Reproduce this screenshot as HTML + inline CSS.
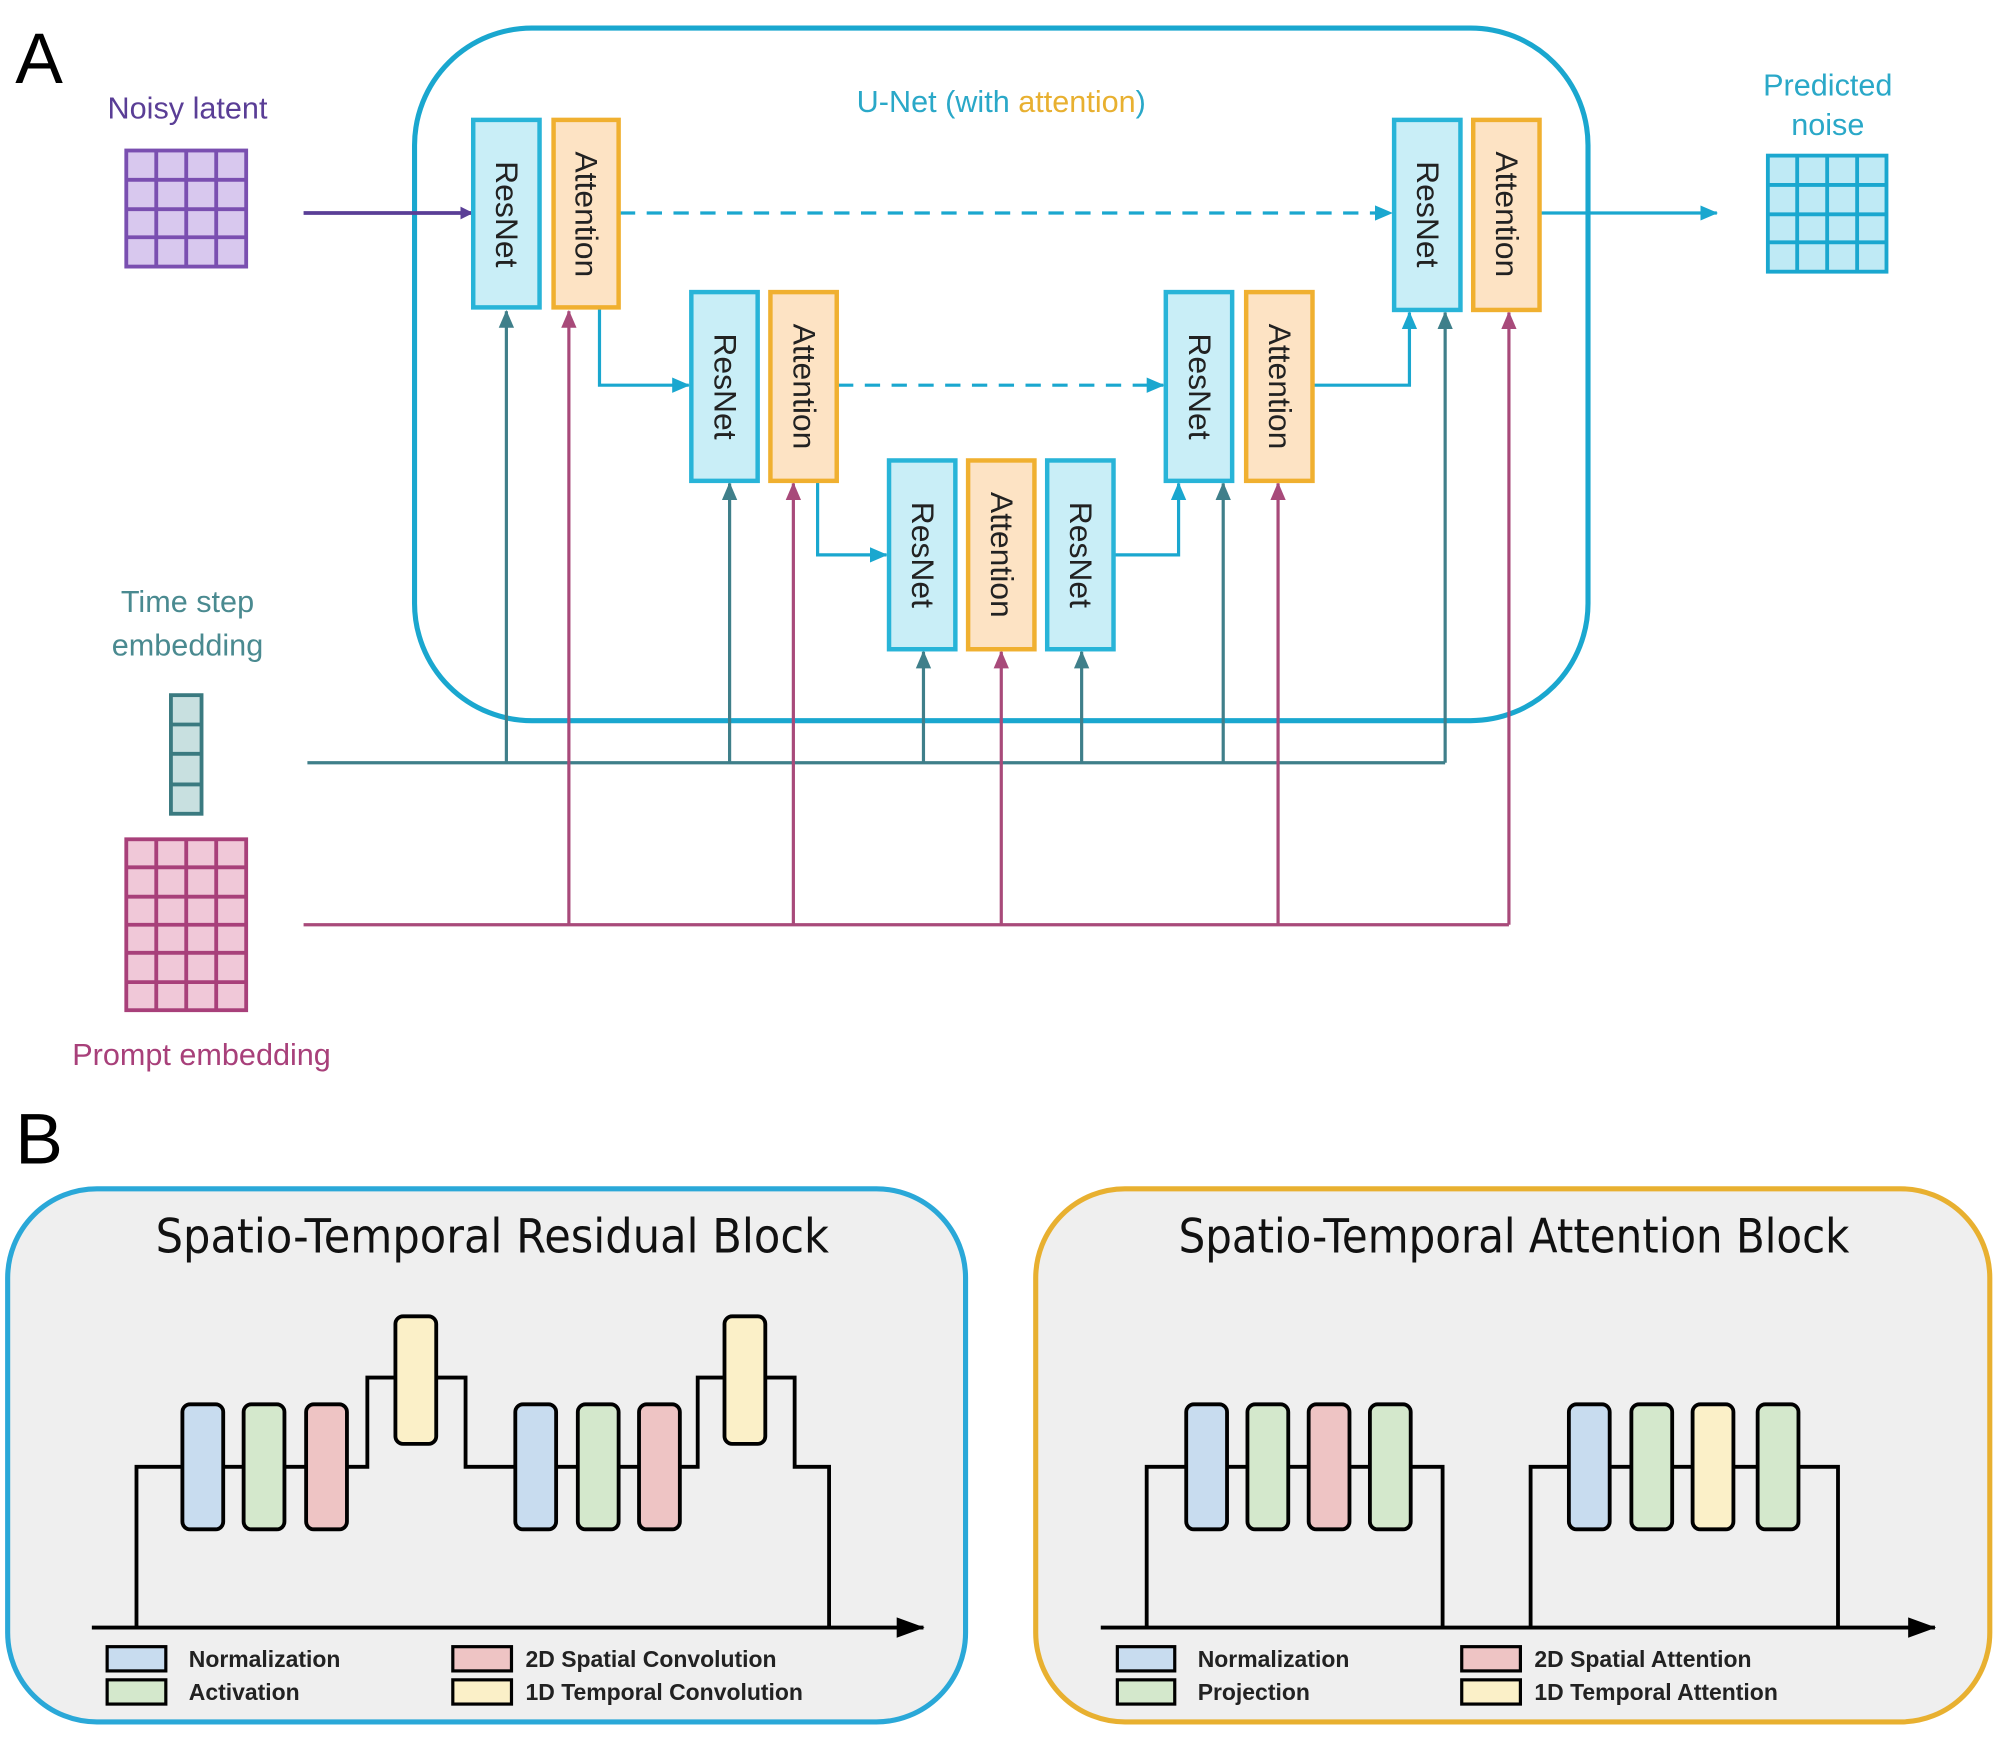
<!DOCTYPE html>
<html><head><meta charset="utf-8"><style>
html,body{margin:0;padding:0;background:#fff;}
svg{display:block;}
</style></head><body>
<svg width="2000" height="1738" viewBox="0 0 1568 1362.6" xmlns="http://www.w3.org/2000/svg" font-family="Liberation Sans, sans-serif">
<defs>
<marker id="mp" markerWidth="10" markerHeight="10" refX="9" refY="5" orient="auto" markerUnits="userSpaceOnUse" viewBox="0 0 10 10"><path d="M0,0 L10,5 L0,10 z" fill="#5a3e96"/></marker>
<marker id="mb" markerWidth="14" markerHeight="14" refX="13" refY="7" orient="auto" markerUnits="userSpaceOnUse" viewBox="0 0 14 14"><path d="M0,1 L14,7 L0,13 z" fill="#1aa7cf"/></marker>
<marker id="mt" markerWidth="14" markerHeight="14" refX="13" refY="7" orient="auto" markerUnits="userSpaceOnUse" viewBox="0 0 14 14"><path d="M0,1 L14,7 L0,13 z" fill="#3f7f8a"/></marker>
<marker id="mm" markerWidth="14" markerHeight="14" refX="13" refY="7" orient="auto" markerUnits="userSpaceOnUse" viewBox="0 0 14 14"><path d="M0,1 L14,7 L0,13 z" fill="#a84a7a"/></marker>
<marker id="mk" markerWidth="22" markerHeight="18" refX="21" refY="9" orient="auto" markerUnits="userSpaceOnUse" viewBox="0 0 22 18"><path d="M0,1 L22,9 L0,17 z" fill="#000"/></marker>
</defs>

<text x="12" y="65" font-size="56" fill="#000">A</text>
<rect x="325" y="22" width="920" height="543" rx="92" fill="none" stroke="#1aa7cf" stroke-width="4"/>
<text x="785" y="88" font-size="24" fill="#2aa8c8" text-anchor="middle">U-Net (with <tspan fill="#e8b030">attention</tspan>)</text>

<text x="147" y="93" font-size="24" fill="#5a3e96" text-anchor="middle">Noisy latent</text>
<rect x="99" y="118" width="94" height="91" fill="#d8c8ee" stroke="#7a4fb0" stroke-width="3"/>
<g stroke="#7a4fb0" stroke-width="3">
<line x1="122.5" y1="118" x2="122.5" y2="209"/><line x1="146" y1="118" x2="146" y2="209"/><line x1="169.5" y1="118" x2="169.5" y2="209"/>
<line x1="99" y1="141" x2="193" y2="141"/><line x1="99" y1="164" x2="193" y2="164"/><line x1="99" y1="186" x2="193" y2="186"/>
</g>
<line x1="238" y1="167" x2="370" y2="167" stroke="#5a3e96" stroke-width="3" marker-end="url(#mp)"/>

<text x="1433" y="75" font-size="24" fill="#2aa8c8" text-anchor="middle">Predicted</text>
<text x="1433" y="106" font-size="24" fill="#2aa8c8" text-anchor="middle">noise</text>
<rect x="1386" y="122" width="93" height="91" fill="#bfeaf5" stroke="#1aa7cf" stroke-width="3"/>
<g stroke="#1aa7cf" stroke-width="3">
<line x1="1409" y1="122" x2="1409" y2="213"/><line x1="1432.5" y1="122" x2="1432.5" y2="213"/><line x1="1456" y1="122" x2="1456" y2="213"/>
<line x1="1386" y1="145" x2="1479" y2="145"/><line x1="1386" y1="168" x2="1479" y2="168"/><line x1="1386" y1="190" x2="1479" y2="190"/>
</g>

<text x="147" y="480" font-size="24" fill="#4a8a90" text-anchor="middle">Time step</text>
<text x="147" y="514" font-size="24" fill="#4a8a90" text-anchor="middle">embedding</text>
<rect x="134" y="545" width="24" height="93" fill="#c8e0e0" stroke="#3a7a80" stroke-width="3"/>
<g stroke="#3a7a80" stroke-width="3"><line x1="134" y1="568" x2="158" y2="568"/><line x1="134" y1="591" x2="158" y2="591"/><line x1="134" y1="615" x2="158" y2="615"/></g>

<rect x="99" y="658" width="94" height="134" fill="#f0c8d8" stroke="#a8407a" stroke-width="3"/>
<g stroke="#a8407a" stroke-width="3">
<line x1="122.5" y1="658" x2="122.5" y2="792"/><line x1="146" y1="658" x2="146" y2="792"/><line x1="169.5" y1="658" x2="169.5" y2="792"/>
<line x1="99" y1="680" x2="193" y2="680"/><line x1="99" y1="703" x2="193" y2="703"/><line x1="99" y1="725" x2="193" y2="725"/><line x1="99" y1="747" x2="193" y2="747"/><line x1="99" y1="770" x2="193" y2="770"/>
</g>
<text x="158" y="835" font-size="24" fill="#a8407a" text-anchor="middle">Prompt embedding</text>

<g stroke="#3f7f8a" stroke-width="2.5" fill="none">
<line x1="241" y1="598" x2="1133" y2="598"/>
<line x1="397" y1="598" x2="397" y2="244" marker-end="url(#mt)"/>
<line x1="572" y1="598" x2="572" y2="379" marker-end="url(#mt)"/>
<line x1="724" y1="598" x2="724" y2="511" marker-end="url(#mt)"/>
<line x1="848" y1="598" x2="848" y2="511" marker-end="url(#mt)"/>
<line x1="959" y1="598" x2="959" y2="379" marker-end="url(#mt)"/>
<line x1="1133" y1="598" x2="1133" y2="245" marker-end="url(#mt)"/>
</g>
<g stroke="#a84a7a" stroke-width="2.5" fill="none">
<line x1="238" y1="725" x2="1183" y2="725"/>
<line x1="446" y1="725" x2="446" y2="244" marker-end="url(#mm)"/>
<line x1="622" y1="725" x2="622" y2="379" marker-end="url(#mm)"/>
<line x1="785" y1="725" x2="785" y2="511" marker-end="url(#mm)"/>
<line x1="1002" y1="725" x2="1002" y2="379" marker-end="url(#mm)"/>
<line x1="1183" y1="725" x2="1183" y2="245" marker-end="url(#mm)"/>
</g>

<g stroke="#1aa7cf" stroke-width="2.5" fill="none">
<line x1="486" y1="167" x2="1091" y2="167" stroke-dasharray="12,9" marker-end="url(#mb)"/>
<line x1="657" y1="302" x2="912" y2="302" stroke-dasharray="12,9" marker-end="url(#mb)"/>
<path d="M470,241 V302 H540" marker-end="url(#mb)"/>
<path d="M641,377 V435 H695" marker-end="url(#mb)"/>
<path d="M873,435 H924 V379" marker-end="url(#mb)"/>
<path d="M1029,302 H1105 V245" marker-end="url(#mb)"/>
<line x1="1207" y1="167" x2="1346" y2="167" marker-end="url(#mb)"/>
</g>

<g font-size="24" fill="#222">
<g stroke-width="3.5">
<rect x="371" y="94" width="52" height="147" fill="#c9eef7" stroke="#28b4d8"/>
<rect x="434" y="94" width="51" height="147" fill="#fde3c4" stroke="#f0b030"/>
<rect x="542" y="229" width="52" height="148" fill="#c9eef7" stroke="#28b4d8"/>
<rect x="604" y="229" width="52" height="148" fill="#fde3c4" stroke="#f0b030"/>
<rect x="697" y="361" width="52" height="148" fill="#c9eef7" stroke="#28b4d8"/>
<rect x="759" y="361" width="52" height="148" fill="#fde3c4" stroke="#f0b030"/>
<rect x="821" y="361" width="52" height="148" fill="#c9eef7" stroke="#28b4d8"/>
<rect x="914" y="229" width="52" height="148" fill="#c9eef7" stroke="#28b4d8"/>
<rect x="977" y="229" width="52" height="148" fill="#fde3c4" stroke="#f0b030"/>
<rect x="1093" y="94" width="52" height="149" fill="#c9eef7" stroke="#28b4d8"/>
<rect x="1155" y="94" width="52" height="149" fill="#fde3c4" stroke="#f0b030"/>
</g>
<g text-anchor="middle" font-size="25">
<text transform="translate(389,168) rotate(90)">ResNet</text>
<text transform="translate(451,168) rotate(90)">Attention</text>
<text transform="translate(560,303) rotate(90)">ResNet</text>
<text transform="translate(622,303) rotate(90)">Attention</text>
<text transform="translate(715,435) rotate(90)">ResNet</text>
<text transform="translate(777,435) rotate(90)">Attention</text>
<text transform="translate(839,435) rotate(90)">ResNet</text>
<text transform="translate(932,303) rotate(90)">ResNet</text>
<text transform="translate(995,303) rotate(90)">Attention</text>
<text transform="translate(1111,168) rotate(90)">ResNet</text>
<text transform="translate(1173,168) rotate(90)">Attention</text>
</g>
</g>

<text x="12" y="912" font-size="56" fill="#000">B</text>
<rect x="6" y="932" width="751" height="418" rx="70" fill="#efefef" stroke="#2aa8d8" stroke-width="4"/>
<rect x="812" y="932" width="748" height="418" rx="70" fill="#efefef" stroke="#e8b030" stroke-width="4"/>
<text x="122" y="982" font-size="37" font-family="DejaVu Sans, sans-serif" fill="#111" textLength="528" lengthAdjust="spacingAndGlyphs">Spatio-Temporal Residual Block</text>
<text x="924" y="982" font-size="37" font-family="DejaVu Sans, sans-serif" fill="#111" textLength="526" lengthAdjust="spacingAndGlyphs">Spatio-Temporal Attention Block</text>

<g stroke="#000" stroke-width="3" fill="none">
<line x1="72" y1="1276" x2="724" y2="1276" marker-end="url(#mk)"/>
<path d="M107,1276 V1150 H288 V1080 H365 V1150 H547 V1080 H623 V1150 H650 V1276"/>
<line x1="863" y1="1276" x2="1517" y2="1276" marker-end="url(#mk)"/>
<path d="M899,1276 V1150 H1131 V1276"/>
<path d="M1200,1276 V1150 H1441 V1276"/>
</g>
<g stroke="#000" stroke-width="3">
<rect x="143" y="1101" width="32" height="98" rx="6" fill="#c8dcef"/>
<rect x="191" y="1101" width="32" height="98" rx="6" fill="#d4e8cc"/>
<rect x="240" y="1101" width="32" height="98" rx="6" fill="#eec4c4"/>
<rect x="310" y="1032" width="32" height="100" rx="6" fill="#fbf0c8"/>
<rect x="404" y="1101" width="32" height="98" rx="6" fill="#c8dcef"/>
<rect x="453" y="1101" width="32" height="98" rx="6" fill="#d4e8cc"/>
<rect x="501" y="1101" width="32" height="98" rx="6" fill="#eec4c4"/>
<rect x="568" y="1032" width="32" height="100" rx="6" fill="#fbf0c8"/>
<rect x="930" y="1101" width="32" height="98" rx="6" fill="#c8dcef"/>
<rect x="978" y="1101" width="32" height="98" rx="6" fill="#d4e8cc"/>
<rect x="1026" y="1101" width="32" height="98" rx="6" fill="#eec4c4"/>
<rect x="1074" y="1101" width="32" height="98" rx="6" fill="#d4e8cc"/>
<rect x="1230" y="1101" width="32" height="98" rx="6" fill="#c8dcef"/>
<rect x="1279" y="1101" width="32" height="98" rx="6" fill="#d4e8cc"/>
<rect x="1327" y="1101" width="32" height="98" rx="6" fill="#fbf0c8"/>
<rect x="1378" y="1101" width="32" height="98" rx="6" fill="#d4e8cc"/>
<rect x="84" y="1291" width="46" height="19" fill="#c8dcef" stroke-width="2.5"/>
<rect x="84" y="1317" width="46" height="19" fill="#d4e8cc" stroke-width="2.5"/>
<rect x="355" y="1291" width="46" height="19" fill="#eec4c4" stroke-width="2.5"/>
<rect x="355" y="1317" width="46" height="19" fill="#fbf0c8" stroke-width="2.5"/>
<rect x="876" y="1291" width="45" height="19" fill="#c8dcef" stroke-width="2.5"/>
<rect x="876" y="1317" width="45" height="19" fill="#d4e8cc" stroke-width="2.5"/>
<rect x="1146" y="1291" width="46" height="19" fill="#eec4c4" stroke-width="2.5"/>
<rect x="1146" y="1317" width="46" height="19" fill="#fbf0c8" stroke-width="2.5"/>
</g>
<g font-size="18" font-weight="bold" fill="#222">
<text x="148" y="1307">Normalization</text>
<text x="148" y="1333">Activation</text>
<text x="412" y="1307">2D Spatial Convolution</text>
<text x="412" y="1333">1D Temporal Convolution</text>
<text x="939" y="1307">Normalization</text>
<text x="939" y="1333">Projection</text>
<text x="1203" y="1307">2D Spatial Attention</text>
<text x="1203" y="1333">1D Temporal Attention</text>
</g>
</svg>
</body></html>
